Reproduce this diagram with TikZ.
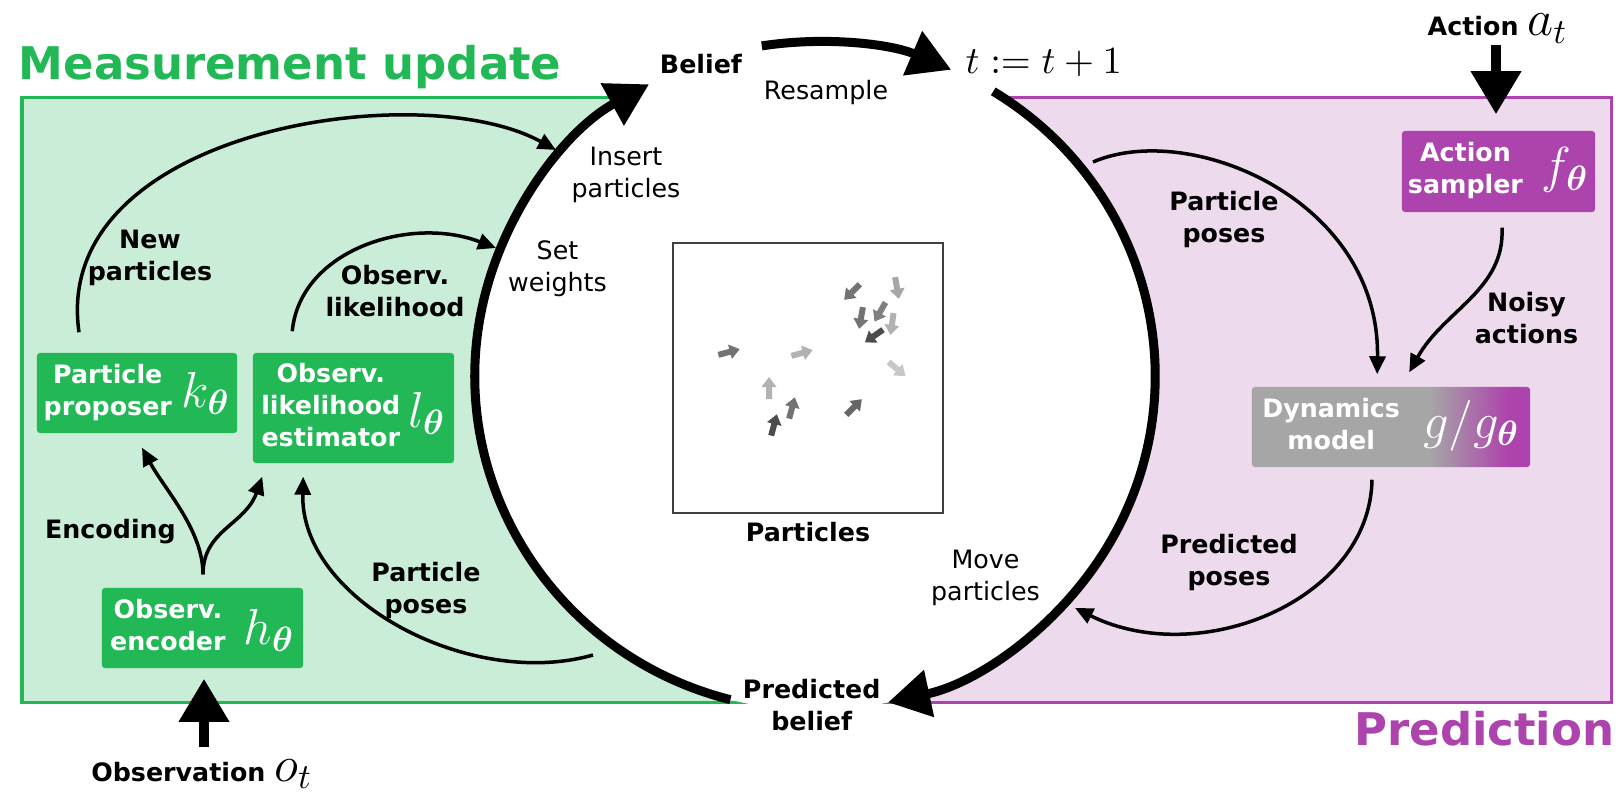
\documentclass[tikz,border=0pt]{standalone}
\usepackage{amsmath}
\usepackage[no-math]{fontspec}
\setmainfont{DejaVu Sans}
\usetikzlibrary{arrows.meta,calc}
\definecolor{mgreen}{RGB}{34,184,86}
\definecolor{lgreen}{RGB}{201,237,214}
\definecolor{mpurple}{RGB}{173,68,173}
\definecolor{lpurple}{RGB}{237,218,237}
\definecolor{dgray}{RGB}{166,166,166}
\pgfdeclarehorizontalshading{dynshade}{100bp}{color(0bp)=(dgray); color(57bp)=(dgray); color(71bp)=(mpurple); color(100bp)=(mpurple)}
\newcommand{\nmath}{\fontsize{14.4}{16}\selectfont}
\newcommand{\parr}[4]{\fill[black!#4, shift={(#1,#2)}, rotate=#3] (-11,-3)--(1,-3)--(1,-7.5)--(11,0)--(1,7.5)--(1,3)--(-11,3)--cycle;}
\begin{document}
\begin{tikzpicture}[x=0.01cm,y=-0.01cm,
  lbl/.style={font=\fontsize{7.2}{9.1}\selectfont\bfseries, inner sep=0pt, align=center},
  rlbl/.style={font=\fontsize{7.2}{9.1}\selectfont, inner sep=0pt, align=center},
  box/.style={rounded corners=0.03cm, inner sep=0pt, text=white, font=\fontsize{7.2}{9.1}\selectfont\bfseries},
  thinarr/.style={line width=0.035cm, -{Triangle[length=0.18cm,width=0.16cm]}},
  bigarr/.style={line width=0.09cm, -{Triangle[length=0.42cm,width=0.46cm]}},
  fatarr/.style={line width=0.1cm, -{Triangle[length=0.43cm,width=0.48cm]}},
  head/.style={font=\fontsize{12.8}{15}\selectfont\bfseries, inner sep=0pt}]
\useasboundingbox (0,0) rectangle (1624,800);
\fill[white] (0,0) rectangle (1624,800);
% regions
\fill[lgreen] (22,97) rectangle (815,702);
\draw[mgreen, line width=0.03cm] (22,97) rectangle (815,702);
\fill[lpurple] (815,97) rectangle (1611,702);
\draw[mpurple, line width=0.03cm] (815,97) rectangle (1611,702);
\coordinate (C) at (815,376);
\fill[white] (C) ellipse[x radius=3.4cm, y radius=3.34cm];
% headers
\node[head, text=mgreen, anchor=base west] (mu) at (18,80) {Measurement update};
\node[head, text=mpurple, anchor=base east] (pred) at (1615,745) {Prediction};
% big cycle arrows
\draw[bigarr] ($(C)+(255.6:3.4cm and 3.34cm)$) arc[start angle=255.6, end angle=119.2, x radius=3.4cm, y radius=3.34cm];
\draw[bigarr] ($(C)+(99:3.4cm and 3.34cm)$) arc[start angle=99, end angle=66.4, x radius=3.4cm, y radius=3.34cm];
\draw[bigarr] ($(C)+(58.4:3.4cm and 3.34cm)$) arc[start angle=58.4, end angle=-77.6, x radius=3.4cm, y radius=3.34cm];
% cycle texts
\node[lbl, anchor=base] (belief) at (701,73) {Belief};
\node[rlbl, anchor=base] (resample) at (826,99) {Resample};
\node[anchor=base west, inner sep=0pt, font=\fontsize{10.95}{13}\selectfont] (tt) at (965,73) {$t:=t+1$};
\node[rlbl] (insert) at (626,174.7) {Insert\\particles};
\node[rlbl] (setw) at (557.5,268.5) {Set\\weights};
\node[rlbl] (move) at (985.5,578) {Move\\particles};
\node[lbl] (predbel) at (811.7,705.5) {Predicted\\belief};
% particles box
\node[draw=black!75, line width=0.014cm, minimum size=2.7cm, inner sep=0pt] (pbox) at (808,378) {};
\node[lbl, anchor=base] (lparticles) at (808,541) {Particles};
\parr{852}{292}{225}{55}
\parr{897}{288}{280}{35}
\parr{861}{318}{260}{55}
\parr{880}{312}{240}{50}
\parr{892}{324}{262}{30}
\parr{874}{336}{215}{70}
\parr{729}{352}{15}{55}
\parr{802}{353}{15}{30}
\parr{897}{369}{320}{22}
\parr{769}{388}{90}{30}
\parr{792}{408}{75}{55}
\parr{774}{425}{75}{70}
\parr{854}{407}{45}{60}
% model nodes
\node[box, fill=mgreen, minimum width=2cm, minimum height=0.8cm] (prop) at (137,393)
  {\begin{tabular}{@{}c@{}}Particle\\proposer\end{tabular}\hspace{0.1cm}\raisebox{-0.08cm}{\nmath$k_{\boldsymbol{\theta}}$}};
\node[box, fill=mgreen, minimum width=2.01cm, minimum height=1.1cm] (lik) at (353.5,408)
  {\begin{tabular}{@{}c@{}}Observ.\\likelihood\\estimator\end{tabular}\hspace{0.08cm}\raisebox{-0.13cm}{\nmath$l_{\boldsymbol{\theta}}$}};
\node[box, fill=mgreen, minimum width=2.01cm, minimum height=0.8cm] (enc) at (202.5,628)
  {\begin{tabular}{@{}c@{}}Observ.\\encoder\end{tabular}\hspace{0.18cm}\raisebox{-0.1cm}{\nmath$h_{\boldsymbol{\theta}}$}};
\node[box, fill=mpurple, minimum width=1.93cm, minimum height=0.81cm] (act) at (1498.5,171.5)
  {\begin{tabular}{@{}c@{}}Action\\sampler\end{tabular}\hspace{0.19cm}\raisebox{-0.05cm}{\nmath$f_{\boldsymbol{\theta}}$}};
\node[box, shade, shading=dynshade, minimum width=2.78cm, minimum height=0.8cm] (dyn) at (1391,427)
  {\begin{tabular}{@{}c@{}}Dynamics\\model\end{tabular}\hspace{0.23cm}\raisebox{-0.05cm}{\nmath$g/g_{\boldsymbol{\theta}}$}};
% inputs
\node[lbl, anchor=base west] (lact) at (1427,35.7) {Action {\fontsize{14.4}{16}\selectfont$a_t$}};
\node[lbl, anchor=base west] (lobsv) at (90.6,781) {Observation {\fontsize{14.4}{16}\selectfont$o_t$}};
\coordinate (aS) at (1496,45);
\coordinate (aE) at ($(act.north)+(-2.5,-16)$);
\draw[fatarr] (aS) -- (aE);
\coordinate (oS) at (204,747);
\coordinate (oE) at ($(enc.south)+(1.5,10)$);
\draw[fatarr] (oS) -- (oE);
% measurement update connectors
\coordinate (npS) at ($(prop.north)+(-58,-20)$);
\coordinate (npE) at (556,150);
\draw[thinarr] (npS) .. controls (50,130) and (420,75) .. (npE);
\coordinate (olS) at ($(lik.north west)+(40,-21)$);
\coordinate (olE) at (496,248);
\draw[thinarr] (olS) .. controls (300,250) and (410,215) .. (olE);
\coordinate (encS) at ($(enc.north)+(0.5,-13)$);
\coordinate (encL) at ($(prop.south)+(5,14)$);
\coordinate (encR) at ($(lik.south west)+(10,13)$);
\draw[thinarr] (encS) .. controls (203,530) and (165,490) .. (encL);
\draw[thinarr] (encS) .. controls (203,530) and (245,525) .. (encR);
\coordinate (ppS) at (593,655);
\coordinate (ppE) at ($(lik.south west)+(51,13)$);
\draw[thinarr] (ppS) .. controls (470,690) and (300,600) .. (ppE);
\node[lbl] (lnew) at (150,257.5) {New\\particles};
\node[lbl] (lobs) at (395,291.5) {Observ.\\likelihood};
\node[lbl, anchor=base] (lenc) at (110.5,538) {Encoding};
\node[lbl] (lpp) at (426,591) {Particle\\poses};
% prediction connectors
\coordinate (pp2S) at (1093,162);
\coordinate (pp2E) at ($(dyn.north west)+(126,-12)$);
\draw[thinarr] (pp2S) .. controls (1190,120) and (1380,200) .. (pp2E);
\coordinate (naS) at ($(act.south)+(3.5,15)$);
\coordinate (naE) at ($(dyn.north west)+(158,-14)$);
\draw[thinarr] (naS) .. controls (1505,290) and (1444,310) .. (naE);
\coordinate (prS) at ($(dyn.south)+(-19,12)$);
\coordinate (prE) at (1075,608);
\draw[thinarr] (prS) .. controls (1370,600) and (1200,670) .. (prE);
\node[lbl] (lpp2) at (1224,219.3) {Particle\\poses};
\node[lbl] (lnoisy) at (1526.5,318) {Noisy\\actions};
\node[lbl] (lpred) at (1229,563) {Predicted\\poses};
\end{tikzpicture}
\end{document}
